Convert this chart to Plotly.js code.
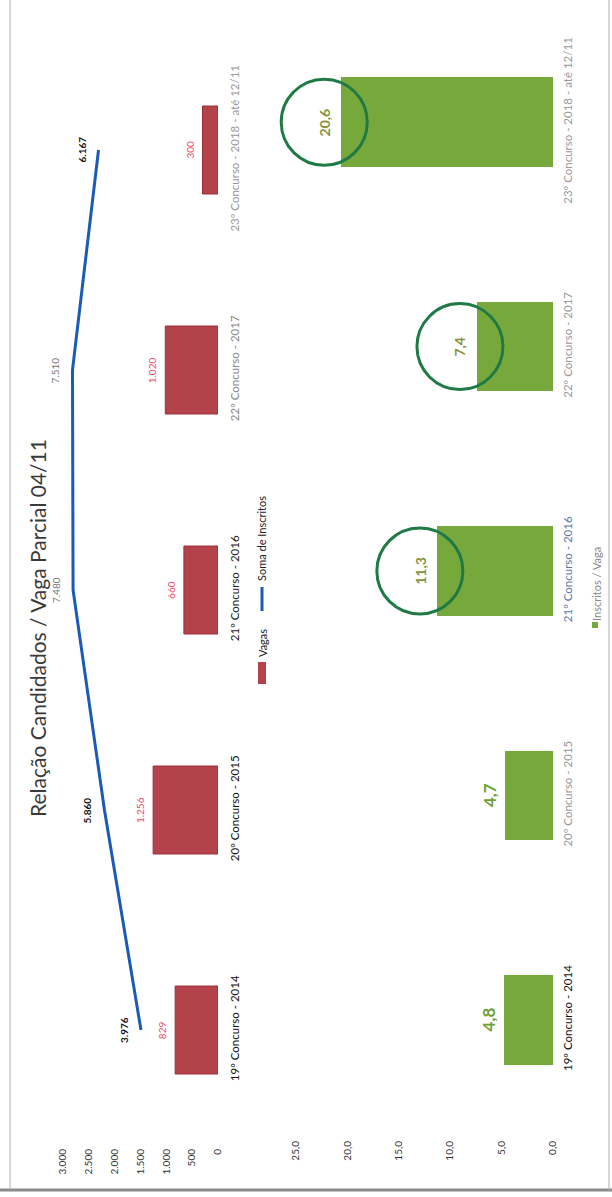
<!DOCTYPE html>
<html><head><meta charset="utf-8">
<script src="https://cdn.plot.ly/plotly-3.0.1.min.js"></script>
<style>html,body{margin:0;padding:0;background:#fff}</style>
</head><body><div id="chart" style="width:612px;height:1197px"></div>
<script>
// ---- data ----
const categories = ["19º Concurso - 2014","20º Concurso - 2015","21º Concurso - 2016","22º Concurso - 2017","23º Concurso - 2018 - até 12/11"];
const vagas = [829, 1256, 660, 1020, 300];
const somaInscritos = [3976, 5860, 7480, 7510, 6167];
const inscritosPorVaga = [4.8, 4.7, 11.3, 7.4, 20.6];
const vagasTicks = [0, 500, 1000, 1500, 2000, 2500, 3000];
const ratioTicks = [0, 5, 10, 15, 20, 25];
const circled = ["21º Concurso - 2016","22º Concurso - 2017","23º Concurso - 2018 - até 12/11"];

// ---- helpers ----
const W = 612, H = 1197;
const px = x => x / W, py = y => 1 - y / H;
const thousands = n => String(n).replace(/\B(?=(\d{3})+(?!\d))/g, '.');
const dec = v => v.toFixed(1).replace('.', ',');
const idx = categories.map((c, i) => i);
const FONT = 'Lato, "Open Sans", sans-serif';

const redLabelColors = ['#111','#111','#222','#888','#999'];
const greenLabelColors = ['#111','#999','#5d79a8','#999','#999'];
const lineLabelStyle = [
  {c:'#111', b:true}, {c:'#111', b:true}, {c:'#777', b:false}, {c:'#777', b:false}, {c:'#111', b:true}
];

const traces = [
  { type:'bar', orientation:'h', name:'Vagas', x: vagas, y: idx, xaxis:'x', yaxis:'y',
    width:0.4, marker:{color:'#b3424b', line:{color:'#9c3039', width:1}}, hoverinfo:'none', showlegend:false },
  { type:'scatter', mode:'lines', name:'Soma de Inscritos', x: somaInscritos, y: idx, xaxis:'x2', yaxis:'y',
    line:{color:'#1c5bb5', width:3}, hoverinfo:'none', showlegend:false },
  { type:'bar', orientation:'h', name:'Inscritos / Vaga', x: inscritosPorVaga, y: idx, xaxis:'x3', yaxis:'y3',
    width:0.4, marker:{color:'#77a83b'}, hoverinfo:'none', showlegend:false }
];

const annotations = [];
const shapes = [];
const A = (o) => Object.assign({showarrow:false, xanchor:'center', yanchor:'middle'}, o);

// title
annotations.push(A({xref:'paper', yref:'paper', x:px(37), y:py(628), text:'Relação Candidados / Vaga Parcial 04/11',
  textangle:-90, font:{family:FONT, size:21, color:'#3a3a3a'}}));

// vagas labels
vagas.forEach((v, i) => annotations.push(A({xref:'x', yref:'y', x:v, y:i, text:thousands(v), textangle:-90,
  xshift:-13, font:{family:FONT, size:10, color:'#f04a68'}})));

// inscritos labels
somaInscritos.forEach((v, i) => annotations.push(A({xref:'x2', yref:'y', x:v, y:i,
  text: lineLabelStyle[i].b ? '<b>' + thousands(v) + '</b>' : thousands(v), textangle:-90,
  xshift:-17, font:{family:FONT, size:10, color:lineLabelStyle[i].c}})));

// ratio labels + circles
inscritosPorVaga.forEach((v, i) => {
  const isC = circled.includes(categories[i]);
  annotations.push(A({xref:'x3', yref:'y3', x:v, y:i, text:'<b>' + dec(v) + '</b>', textangle:-90,
    xshift: isC ? -17 : -15,
    font:{family:FONT, size: isC ? 14 : 17, color: isC ? '#86923a' : '#6ea133'}}));
  if (isC) shapes.push({type:'circle', xref:'x3', yref:'y3', xsizemode:'pixel', ysizemode:'pixel',
    xanchor:v, yanchor:i, x0:-17-43, x1:-17+43, y0:-43, y1:43, line:{color:'#1f7a45', width:3}});
});

// legends (drawn, rotated)
shapes.push({type:'rect', xref:'paper', yref:'paper', x0:px(258), x1:px(266), y0:py(684), y1:py(662),
  fillcolor:'#b3424b', line:{width:0}});
annotations.push(A({xref:'paper', yref:'paper', x:px(262), y:py(643), text:'Vagas', textangle:-90,
  font:{family:FONT, size:11, color:'#222'}}));
shapes.push({type:'line', xref:'paper', yref:'paper', x0:px(262), x1:px(262), y0:py(611), y1:py(587),
  line:{color:'#1c5bb5', width:3}});
annotations.push(A({xref:'paper', yref:'paper', x:px(262), y:py(539), text:'Soma de Inscritos', textangle:-90,
  font:{family:FONT, size:11, color:'#222'}}));
shapes.push({type:'rect', xref:'paper', yref:'paper', x0:px(592), x1:px(598), y0:py(628), y1:py(622),
  fillcolor:'#77a83b', line:{width:0}});
annotations.push(A({xref:'paper', yref:'paper', x:px(596), y:py(584), text:'Inscritos / Vaga', textangle:-90,
  font:{family:FONT, size:11, color:'#8a8a8a'}}));

// frame
shapes.push({type:'line', xref:'paper', yref:'paper', x0:px(0), x1:px(612), y0:py(1190), y1:py(1190), line:{color:'#8a8a8a', width:3}});
shapes.push({type:'line', xref:'paper', yref:'paper', x0:px(10), x1:px(10), y0:py(0), y1:py(1190), line:{color:'#b0b0b0', width:1}});
shapes.push({type:'line', xref:'paper', yref:'paper', x0:px(609), x1:px(609), y0:py(0), y1:py(1190), line:{color:'#b0b0b0', width:1}});

const tickFont = {family:FONT, size:10, color:'#333'};
// ratio axis: 0 at x=553px, 25 at x=296px; extended to 30 so the circles are not clipped
const ratioMax = 30, ratioPx = (553 - 296) / 25;
const layout = {
  width: W, height: H, margin:{l:0, r:0, t:0, b:0}, paper_bgcolor:'#fff', plot_bgcolor:'rgba(0,0,0,0)',
  separators: ',.', showlegend:false, bargap:0,
  xaxis: {domain:[px(63), px(218)], range:[3000, 0], anchor:'y', side:'bottom', tickvals:vagasTicks,
    tickformat:',d', tickangle:-90, showgrid:false, zeroline:false, showline:false, ticks:'',
    tickfont:tickFont, ticklabelstandoff:6},
  xaxis2: {overlaying:'x', range:[8000, 0], anchor:'y', visible:false},
  yaxis: {domain:[py(1140), py(40)], range:[-0.5, 4.5], anchor:'x', side:'right',
    tickvals: idx, ticktext: categories.map((c, i) => '<span style="color:' + redLabelColors[i] + '">' + c + '</span>'),
    tickangle:-90, showgrid:false, zeroline:false, showline:false, ticks:'', ticklabelstandoff:8,
    tickfont:{family:FONT, size:11.5, color:'#111'}},
  xaxis3: {domain:[px(553 - ratioMax * ratioPx), px(553)], range:[ratioMax, 0], anchor:'y3', side:'bottom', tickvals:ratioTicks,
    tickformat:'.1f', tickangle:-90, showgrid:false, zeroline:false, showline:false, ticks:'',
    tickfont:tickFont, ticklabelstandoff:6},
  yaxis3: {domain:[py(1132), py(10)], range:[-0.5, 4.5], anchor:'x3', side:'right',
    tickvals: idx, ticktext: categories.map((c, i) => '<span style="color:' + greenLabelColors[i] + '">' + c + '</span>'),
    tickangle:-90, showgrid:false, zeroline:false, showline:false, ticks:'', ticklabelstandoff:6,
    tickfont:{family:FONT, size:11.5, color:'#111'}},
  annotations, shapes
};

Plotly.newPlot('chart', traces, layout, {staticPlot:true, displayModeBar:false});
</script>
</body></html>
